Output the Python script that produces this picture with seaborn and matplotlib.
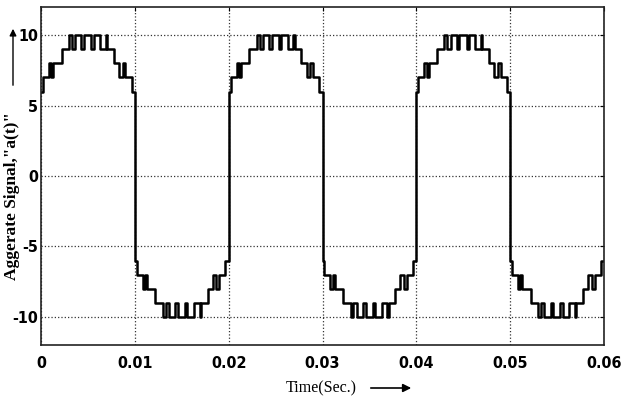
import matplotlib
matplotlib.use("Agg")
import matplotlib.pyplot as plt
from matplotlib import font_manager
from matplotlib.font_manager import FontProperties
import numpy as np
import pandas as pd
import seaborn as sns

# ---- data (one half cycle, times in ms) ----
half_times_ms = [0, 0.2, 0.85, 1.1, 1.3, 2.2, 3.0, 3.3, 3.65, 4.3, 4.6,
                 5.35, 5.6, 6.3, 6.9, 7.05, 7.75, 8.3, 8.7, 9.0, 9.65]
half_levels = [6, 7, 8, 7, 8, 9, 10, 9, 10, 9, 10,
               9, 10, 9, 10, 9, 8, 7, 8, 7, 6]
period_ms = 20
n_cycles = 3
end_level = -6

x_ticks = [0, 0.01, 0.02, 0.03, 0.04, 0.05, 0.06]
x_tick_labels = ["0", "0.01", "0.02", "0.03", "0.04", "0.05", "0.06"]
y_ticks = [-10, -5, 0, 5, 10]
y_tick_labels = ["-10", "-5", "0", "5", "10"]

# ---- build waveform table (positive half, negated half, repeated) ----
t_list, a_list = [], []
for c in range(n_cycles):
    for tm, lv in zip(half_times_ms, half_levels):
        t_list.append((c * period_ms + tm) / 1000.0)
        a_list.append(lv)
    for tm, lv in zip(half_times_ms, half_levels):
        t_list.append((c * period_ms + period_ms / 2 + tm) / 1000.0)
        a_list.append(-lv)
t_list.append(n_cycles * period_ms / 1000.0)
a_list.append(end_level)
df = pd.DataFrame({"t": t_list, "a": a_list})

sns.set_theme(style="white")
plt.rcParams["font.family"] = ["DejaVu Sans"]


def _stretch_num(s):
    if isinstance(s, (int, float)):
        return s
    return font_manager.stretch_dict.get(str(s).lower(), 500)


def _weight_num(w):
    if isinstance(w, (int, float)):
        return w
    return font_manager.weight_dict.get(str(w).lower(), 400)


# pick a narrow bold sans for the tick labels if one is installed
best = None
for f in font_manager.fontManager.ttflist:
    st = _stretch_num(f.stretch)
    wt = _weight_num(f.weight)
    narrowname = ("Narrow" in f.name) or ("Condensed" in f.name)
    if (st < 500 or narrowname) and wt >= 600 and "Serif" not in f.name and "Mono" not in f.name and "CJK" not in f.name:
        score = (0 if "Liberation" in f.name else 1, abs(wt - 700), abs(st - 300) if st < 500 else 0)
        if best is None or score < best[0]:
            best = (score, f.fname)
if best is not None:
    tick_fp = FontProperties(fname=best[1], size=11.5)
else:
    tick_fp = FontProperties(family="DejaVu Sans", weight="bold", size=10)

serif_family = ["Liberation Serif", "DejaVu Serif"]

fig = plt.figure(figsize=(6.25, 4.01), dpi=100)
ax = fig.add_axes([41 / 625, 56 / 401, 563 / 625, 338 / 401])

sns.lineplot(data=df, x="t", y="a", drawstyle="steps-post", estimator=None,
             sort=False, color="black", linewidth=1.8, ax=ax)

ax.set_xlim(0, 0.06)
ax.set_ylim(-12, 12)
ax.set_xticks(x_ticks)
ax.set_xticklabels(x_tick_labels)
ax.set_yticks(y_ticks)
ax.set_yticklabels(y_tick_labels)
for lab in ax.get_xticklabels() + ax.get_yticklabels():
    lab.set_fontproperties(tick_fp)

ax.tick_params(direction="in", length=3, width=0.8, top=True, right=True,
               colors="black")
ax.tick_params(axis="x", pad=8)
ax.tick_params(axis="y", pad=2)
ax.grid(True, linestyle=":", color="#333333", linewidth=0.9)
for s in ax.spines.values():
    s.set_visible(True)
    s.set_color("#222222")
    s.set_linewidth(1.2)

ax.set_xlabel("")
ax.set_ylabel("")

# x label with arrow
fig.text(321 / 625, 1 - 388 / 401, "Time(Sec.)", ha="center", va="center",
         family=serif_family, fontsize=11.5, color="black")
fig.patches.append(matplotlib.patches.FancyArrowPatch(
    (368 / 625, 1 - 388 / 401), (414 / 625, 1 - 388 / 401),
    transform=fig.transFigure, arrowstyle="-|>", mutation_scale=12,
    color="black", linewidth=1.2))

# y label with arrow
fig.text(12 / 625, 1 - 196 / 401, 'Aggerate Signal,"a(t)"', ha="center", va="center",
         rotation=90, family=serif_family, fontsize=12.5, fontweight="bold", color="black")
fig.patches.append(matplotlib.patches.FancyArrowPatch(
    (13 / 625, 1 - 88 / 401), (13 / 625, 1 - 26 / 401),
    transform=fig.transFigure, arrowstyle="-|>", mutation_scale=10,
    color="black", linewidth=1.0))

fig.savefig("out.png", dpi=100)
